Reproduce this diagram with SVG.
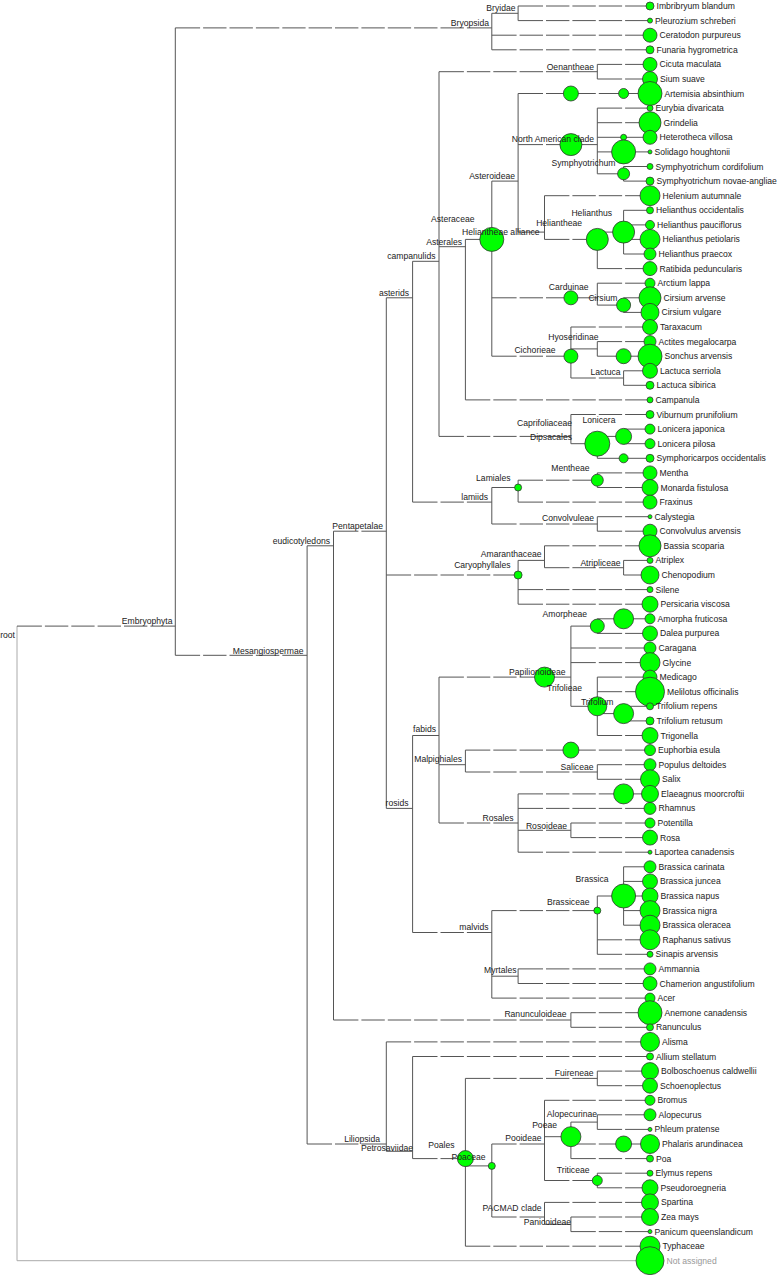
<svg xmlns="http://www.w3.org/2000/svg" width="778" height="1275" viewBox="0 0 778 1275">
<style>
.e{fill:none;stroke:#555;stroke-width:1}
.na{fill:none;stroke:#aaa;stroke-width:1}
.c{fill:#00ff00;stroke:#333;stroke-width:0.8}
text{font-family:"Liberation Sans",Arial,Helvetica,sans-serif;font-size:8.6px;fill:#222}
.i{text-anchor:end}
.g{fill:#999}
</style>
<rect width="778" height="1275" fill="#fff"/>
<g id="connectors">
<path class="e" d="M175.3 27.9V655.3M491.8 13.3V49.8M518.1 6V20.6M307.1 545.8V1144M333.5 531.2V1020M386.3 297.8V808.4M412.6 261.3V502.1M439 71.7V436.4M597.3 64.4V79M465.4 239.4V399.9M491.8 181.1V356.2M518.1 93.5V232.1M597.3 108.1V173.8M623.6 166.5V181.1M544.5 195.7V239.4M597.3 232.1V268.6M623.6 210.3V254M597.3 283.2V305.1M623.6 297.8V312.4M570.9 327V378M597.3 341.6V356.2M623.6 370.8V385.3M570.9 414.5V443.7M597.3 436.4V458.3M623.6 429.1V443.7M491.8 487.5V524M518.1 480.2V502.1M597.3 472.9V487.5M597.3 516.7V531.2M518.1 560.4V604.2M544.5 545.8V567.7M623.6 560.4V575M412.6 735.5V932.5M439 677.1V823M570.9 626.1V706.3M597.3 618.8V633.4M597.3 677.1V735.5M623.6 706.3V720.9M465.4 750.1V772M597.3 764.7V779.3M518.1 793.9V852.2M570.9 823V837.6M491.8 910.6V998.1M597.3 896V954.3M623.6 866.8V925.2M518.1 968.9V983.5M570.9 1012.7V1027.3M386.3 1041.9V1151.3M412.6 1056.5V1158.6M465.4 1078.4V1246.2M597.3 1071.1V1085.7M491.8 1144V1217M544.5 1100.3V1180.5M570.9 1122.1V1158.6M597.3 1114.8V1129.4M597.3 1173.2V1187.8M544.5 1202.4V1224.3M570.9 1217V1231.6"/>
<path class="na" d="M17 626.1V1260.7M17 1260.7H650"/>
<path class="e" d="M17 626.1H41.9m3 0H68.3m3 0H94.6m3 0H121m3 0H147.4m3 0H175.3M175.3 27.9H200.1m3 0H226.5m3 0H252.9m3 0H279.3m3 0H305.6m3 0H332m3 0H358.4m3 0H384.8m3 0H411.1m3 0H437.5m3 0H463.9m3 0H491.8M175.3 655.3H200.1m3 0H226.5m3 0H252.9m3 0H279.3m3 0H307.1M491.8 13.3H518.1M307.1 545.8H333.5M307.1 1144H332m3 0H358.4m3 0H386.3M333.5 531.2H358.4m3 0H386.3M333.5 1020H358.4m3 0H384.8m3 0H411.1m3 0H437.5m3 0H463.9m3 0H490.3m3 0H516.6m3 0H543m3 0H570.9M386.3 297.8H412.6M386.3 575H411.1m3 0H437.5m3 0H463.9m3 0H490.3m3 0H518.1M386.3 808.4H412.6M412.6 261.3H439M412.6 502.1H437.5m3 0H463.9m3 0H491.8M439 71.7H463.9m3 0H490.3m3 0H516.6m3 0H543m3 0H569.4m3 0H597.3M439 246.7H465.4M439 436.4H463.9m3 0H490.3m3 0H516.6m3 0H543m3 0H570.9M465.4 239.4H491.8M491.8 181.1H518.1M491.8 297.8H516.6m3 0H543m3 0H569.4m3 0H597.3M491.8 356.2H516.6m3 0H543m3 0H570.9M518.1 144.6H543m3 0H569.4m3 0H597.3M518.1 232.1H544.5M597.3 173.8H623.6M544.5 239.4H569.4m3 0H597.3M597.3 232.1H623.6M597.3 305.1H623.6M570.9 348.9H597.3M570.9 378H595.8m3 0H623.6M570.9 443.7H597.3M597.3 436.4H623.6M491.8 487.5H518.1M491.8 524H516.6m3 0H543m3 0H569.4m3 0H597.3M518.1 480.2H543m3 0H569.4m3 0H597.3M518.1 560.4H544.5M544.5 567.7H569.4m3 0H595.8m3 0H623.6M412.6 735.5H439M412.6 932.5H437.5m3 0H463.9m3 0H491.8M439 677.1H463.9m3 0H490.3m3 0H516.6m3 0H543m3 0H570.9M439 764.7H465.4M439 823H463.9m3 0H490.3m3 0H518.1M570.9 626.1H597.3M570.9 706.3H597.3M597.3 713.6H623.6M465.4 772H490.3m3 0H516.6m3 0H543m3 0H569.4m3 0H597.3M518.1 830.3H543m3 0H570.9M491.8 910.6H516.6m3 0H543m3 0H569.4m3 0H597.3M491.8 976.2H518.1M597.3 896H623.6M386.3 1151.3H412.6M412.6 1158.6H437.5m3 0H465.4M465.4 1078.4H490.3m3 0H516.6m3 0H543m3 0H569.4m3 0H597.3M465.4 1165.9H491.8M491.8 1144H516.6m3 0H544.5M491.8 1217H516.6m3 0H544.5M544.5 1136.7H570.9M544.5 1180.5H569.4m3 0H597.3M570.9 1122.1H597.3M544.5 1224.3H570.9"/>
<path class="e" d="M518.1 6H543m3 0H569.4m3 0H595.8m3 0H622.1m3 0H650M518.1 20.6H543m3 0H569.4m3 0H595.8m3 0H622.1m3 0H650M491.8 35.2H516.6m3 0H543m3 0H569.4m3 0H595.8m3 0H622.1m3 0H650M491.8 49.8H516.6m3 0H543m3 0H569.4m3 0H595.8m3 0H622.1m3 0H650M597.3 64.4H622.1m3 0H650M597.3 79H622.1m3 0H650M518.1 93.5H543m3 0H569.4m3 0H595.8m3 0H622.1m3 0H650M597.3 108.1H622.1m3 0H650M597.3 122.7H622.1m3 0H650M597.3 137.3H622.1m3 0H650M597.3 151.9H622.1m3 0H650M623.6 166.5H650M623.6 181.1H650M544.5 195.7H569.4m3 0H595.8m3 0H622.1m3 0H650M623.6 210.3H650M623.6 224.9H650M623.6 239.4H650M623.6 254H650M597.3 268.6H622.1m3 0H650M597.3 283.2H622.1m3 0H650M623.6 297.8H650M623.6 312.4H650M570.9 327H595.8m3 0H622.1m3 0H650M597.3 341.6H622.1m3 0H650M597.3 356.2H622.1m3 0H650M623.6 370.8H650M623.6 385.3H650M465.4 399.9H490.3m3 0H516.6m3 0H543m3 0H569.4m3 0H595.8m3 0H622.1m3 0H650M570.9 414.5H595.8m3 0H622.1m3 0H650M623.6 429.1H650M623.6 443.7H650M597.3 458.3H622.1m3 0H650M597.3 472.9H622.1m3 0H650M597.3 487.5H622.1m3 0H650M518.1 502.1H543m3 0H569.4m3 0H595.8m3 0H622.1m3 0H650M597.3 516.7H622.1m3 0H650M597.3 531.2H622.1m3 0H650M544.5 545.8H569.4m3 0H595.8m3 0H622.1m3 0H650M623.6 560.4H650M623.6 575H650M518.1 589.6H543m3 0H569.4m3 0H595.8m3 0H622.1m3 0H650M518.1 604.2H543m3 0H569.4m3 0H595.8m3 0H622.1m3 0H650M597.3 618.8H622.1m3 0H650M597.3 633.4H622.1m3 0H650M570.9 648H595.8m3 0H622.1m3 0H650M570.9 662.6H595.8m3 0H622.1m3 0H650M597.3 677.1H622.1m3 0H650M597.3 691.7H622.1m3 0H650M623.6 706.3H650M623.6 720.9H650M597.3 735.5H622.1m3 0H650M465.4 750.1H490.3m3 0H516.6m3 0H543m3 0H569.4m3 0H595.8m3 0H622.1m3 0H650M597.3 764.7H622.1m3 0H650M597.3 779.3H622.1m3 0H650M518.1 793.9H543m3 0H569.4m3 0H595.8m3 0H622.1m3 0H650M518.1 808.4H543m3 0H569.4m3 0H595.8m3 0H622.1m3 0H650M570.9 823H595.8m3 0H622.1m3 0H650M570.9 837.6H595.8m3 0H622.1m3 0H650M518.1 852.2H543m3 0H569.4m3 0H595.8m3 0H622.1m3 0H650M623.6 866.8H650M623.6 881.4H650M623.6 896H650M623.6 910.6H650M623.6 925.2H650M597.3 939.8H622.1m3 0H650M597.3 954.3H622.1m3 0H650M518.1 968.9H543m3 0H569.4m3 0H595.8m3 0H622.1m3 0H650M518.1 983.5H543m3 0H569.4m3 0H595.8m3 0H622.1m3 0H650M491.8 998.1H516.6m3 0H543m3 0H569.4m3 0H595.8m3 0H622.1m3 0H650M570.9 1012.7H595.8m3 0H622.1m3 0H650M570.9 1027.3H595.8m3 0H622.1m3 0H650M386.3 1041.9H411.1m3 0H437.5m3 0H463.9m3 0H490.3m3 0H516.6m3 0H543m3 0H569.4m3 0H595.8m3 0H622.1m3 0H650M412.6 1056.5H437.5m3 0H463.9m3 0H490.3m3 0H516.6m3 0H543m3 0H569.4m3 0H595.8m3 0H622.1m3 0H650M597.3 1071.1H622.1m3 0H650M597.3 1085.7H622.1m3 0H650M544.5 1100.3H569.4m3 0H595.8m3 0H622.1m3 0H650M597.3 1114.8H622.1m3 0H650M597.3 1129.4H622.1m3 0H650M570.9 1144H595.8m3 0H622.1m3 0H650M570.9 1158.6H595.8m3 0H622.1m3 0H650M597.3 1173.2H622.1m3 0H650M597.3 1187.8H622.1m3 0H650M544.5 1202.4H569.4m3 0H595.8m3 0H622.1m3 0H650M570.9 1217H595.8m3 0H622.1m3 0H650M570.9 1231.6H595.8m3 0H622.1m3 0H650M465.4 1246.2H490.3m3 0H516.6m3 0H543m3 0H569.4m3 0H595.8m3 0H622.1m3 0H650"/>
</g>
<g id="rank-markers">
<circle class="c" cx="570.9" cy="93.5" r="7.5"/>
<circle class="c" cx="623.6" cy="93.5" r="5"/>
<circle class="c" cx="623.6" cy="137.3" r="3"/>
<circle class="c" cx="623.6" cy="151.9" r="12"/>
<circle class="c" cx="623.6" cy="356.2" r="7.5"/>
<circle class="c" cx="623.6" cy="458.3" r="4.5"/>
<circle class="c" cx="623.6" cy="618.8" r="10"/>
<circle class="c" cx="570.9" cy="750.1" r="8"/>
<circle class="c" cx="623.6" cy="793.9" r="10"/>
<circle class="c" cx="623.6" cy="1144" r="8"/>
</g>
<g id="internal-nodes">
<g id="n-root"><text class="i" x="15" y="637.5">root</text></g>
<g id="n-embryophyta"><text class="i" x="172.5" y="624.3">Embryophyta</text></g>
<g id="n-bryopsida"><text class="i" x="489" y="25.8">Bryopsida</text></g>
<g id="n-bryidae"><text class="i" x="515.5" y="10.5">Bryidae</text></g>
<g id="n-mesangiospermae"><text class="i" x="303.5" y="653.5">Mesangiospermae</text></g>
<g id="n-eudicotyledons"><text class="i" x="330" y="543.8">eudicotyledons</text></g>
<g id="n-pentapetalae"><text class="i" x="383" y="529.3">Pentapetalae</text></g>
<g id="n-asterids"><text class="i" x="409" y="295.5">asterids</text></g>
<g id="n-campanulids"><text class="i" x="435.5" y="259.2">campanulids</text></g>
<g id="n-oenantheae"><text class="i" x="594" y="69.6">Oenantheae</text></g>
<g id="n-asterales"><text class="i" x="462" y="244.5">Asterales</text></g>
<g id="n-asteraceae"><circle class="c" cx="491.8" cy="239.4" r="12"/><text class="i" x="474.5" y="222.3">Asteraceae</text></g>
<g id="n-asteroideae"><text class="i" x="515" y="178.8">Asteroideae</text></g>
<g id="n-north-american-clade"><circle class="c" cx="570.9" cy="144.6" r="11"/><text class="i" x="594" y="142">North American clade</text></g>
<g id="n-symphyotrichum"><circle class="c" cx="623.6" cy="173.8" r="6"/><text class="i" x="615.5" y="165.7">Symphyotrichum</text></g>
<g id="n-heliantheae-alliance"><text class="i" x="539.5" y="235.3">Heliantheae alliance</text></g>
<g id="n-heliantheae"><circle class="c" cx="597.3" cy="239.4" r="11"/><text class="i" x="582" y="226.3">Heliantheae</text></g>
<g id="n-helianthus"><circle class="c" cx="623.6" cy="232.1" r="11"/><text class="i" x="612" y="216.3">Helianthus</text></g>
<g id="n-carduinae"><circle class="c" cx="570.9" cy="297.8" r="7"/><text class="i" x="588.5" y="289.7">Carduinae</text></g>
<g id="n-cirsium"><circle class="c" cx="623.6" cy="305.1" r="7"/><text class="i" x="617.5" y="300.7">Cirsium</text></g>
<g id="n-cichorieae"><circle class="c" cx="570.9" cy="356.2" r="7"/><text class="i" x="555.5" y="353">Cichorieae</text></g>
<g id="n-hyoseridinae"><text class="i" x="598.5" y="339.7">Hyoseridinae</text></g>
<g id="n-lactuca"><text class="i" x="620.5" y="375.3">Lactuca</text></g>
<g id="n-dipsacales"><text class="i" x="572" y="439.7">Dipsacales</text></g>
<g id="n-caprifoliaceae"><circle class="c" cx="597.3" cy="443.7" r="12.5"/><text class="i" x="572" y="425.7">Caprifoliaceae</text></g>
<g id="n-lonicera"><circle class="c" cx="623.6" cy="436.4" r="8"/><text class="i" x="615.5" y="423">Lonicera</text></g>
<g id="n-lamiids"><text class="i" x="488" y="499.7">lamiids</text></g>
<g id="n-lamiales"><circle class="c" cx="518.1" cy="487.5" r="3.5"/><text class="i" x="510.5" y="481.3">Lamiales</text></g>
<g id="n-mentheae"><circle class="c" cx="597.3" cy="480.2" r="6"/><text class="i" x="589.5" y="471.3">Mentheae</text></g>
<g id="n-convolvuleae"><text class="i" x="594" y="521.3">Convolvuleae</text></g>
<g id="n-caryophyllales"><circle class="c" cx="518.1" cy="575" r="4"/><text class="i" x="510.5" y="568">Caryophyllales</text></g>
<g id="n-amaranthaceae"><text class="i" x="541.5" y="557.3">Amaranthaceae</text></g>
<g id="n-atripliceae"><text class="i" x="620.5" y="565.7">Atripliceae</text></g>
<g id="n-rosids"><text class="i" x="408.5" y="806.3">rosids</text></g>
<g id="n-fabids"><text class="i" x="436" y="732.3">fabids</text></g>
<g id="n-papilionoideae"><circle class="c" cx="544.5" cy="677.1" r="10"/><text class="i" x="565.5" y="674.7">Papilionoideae</text></g>
<g id="n-amorpheae"><circle class="c" cx="597.3" cy="626.1" r="7"/><text class="i" x="587" y="617">Amorpheae</text></g>
<g id="n-trifolieae"><circle class="c" cx="597.3" cy="706.3" r="9.5"/><text class="i" x="582" y="691.3">Trifolieae</text></g>
<g id="n-trifolium"><circle class="c" cx="623.6" cy="713.6" r="10"/><text class="i" x="613.5" y="704.7">Trifolium</text></g>
<g id="n-malpighiales"><text class="i" x="462" y="762.3">Malpighiales</text></g>
<g id="n-saliceae"><text class="i" x="593.5" y="769.7">Saliceae</text></g>
<g id="n-rosales"><text class="i" x="513.5" y="820.7">Rosales</text></g>
<g id="n-rosoideae"><text class="i" x="567" y="828.7">Rosoideae</text></g>
<g id="n-malvids"><text class="i" x="488.5" y="930.3">malvids</text></g>
<g id="n-brassiceae"><circle class="c" cx="597.3" cy="910.6" r="3.5"/><text class="i" x="589.5" y="904.7">Brassiceae</text></g>
<g id="n-brassica"><circle class="c" cx="623.6" cy="896" r="12"/><text class="i" x="608.5" y="882">Brassica</text></g>
<g id="n-myrtales"><text class="i" x="516.5" y="973">Myrtales</text></g>
<g id="n-ranunculoideae"><text class="i" x="566.5" y="1017.3">Ranunculoideae</text></g>
<g id="n-liliopsida"><text class="i" x="380" y="1141.5">Liliopsida</text></g>
<g id="n-petrosaviidae"><text class="i" x="413" y="1151.3">Petrosaviidae</text></g>
<g id="n-poales"><circle class="c" cx="465.4" cy="1158.6" r="8"/><text class="i" x="454.5" y="1148">Poales</text></g>
<g id="n-fuireneae"><text class="i" x="593.5" y="1075.7">Fuireneae</text></g>
<g id="n-poaceae"><circle class="c" cx="491.8" cy="1165.9" r="3.5"/><text class="i" x="485.5" y="1160">Poaceae</text></g>
<g id="n-pooideae"><text class="i" x="541.5" y="1141.3">Pooideae</text></g>
<g id="n-poeae"><circle class="c" cx="570.9" cy="1136.7" r="10"/><text class="i" x="557" y="1128">Poeae</text></g>
<g id="n-alopecurinae"><text class="i" x="597" y="1117.3">Alopecurinae</text></g>
<g id="n-triticeae"><circle class="c" cx="597.3" cy="1180.5" r="5"/><text class="i" x="589.5" y="1173">Triticeae</text></g>
<g id="n-pacmad"><text class="i" x="541.5" y="1211.3">PACMAD clade</text></g>
<g id="n-panicoideae"><text class="i" x="571" y="1224.7">Panicoideae</text></g>
</g>
<g id="leaves">
<g id="l1"><circle class="c" cx="650" cy="6" r="4"/><text x="656.5" y="9">Imbribryum blandum</text></g>
<g id="l2"><circle class="c" cx="650" cy="20.6" r="2.5"/><text x="655" y="23.6">Pleurozium schreberi</text></g>
<g id="l3"><circle class="c" cx="650" cy="35.2" r="7"/><text x="659.5" y="38.2">Ceratodon purpureus</text></g>
<g id="l4"><circle class="c" cx="650" cy="49.8" r="4"/><text x="656.5" y="52.8">Funaria hygrometrica</text></g>
<g id="l5"><circle class="c" cx="650" cy="64.4" r="7"/><text x="659.5" y="67.4">Cicuta maculata</text></g>
<g id="l6"><circle class="c" cx="650" cy="79" r="7.5"/><text x="660" y="82">Sium suave</text></g>
<g id="l7"><circle class="c" cx="650" cy="93.5" r="12"/><text x="664.5" y="96.5">Artemisia absinthium</text></g>
<g id="l8"><circle class="c" cx="650" cy="108.1" r="3"/><text x="655.5" y="111.1">Eurybia divaricata</text></g>
<g id="l9"><circle class="c" cx="650" cy="122.7" r="11"/><text x="663.5" y="125.7">Grindelia</text></g>
<g id="l10"><circle class="c" cx="650" cy="137.3" r="7"/><text x="659.5" y="140.3">Heterotheca villosa</text></g>
<g id="l11"><circle class="c" cx="650" cy="151.9" r="2"/><text x="654.5" y="154.9">Solidago houghtonii</text></g>
<g id="l12"><circle class="c" cx="650" cy="166.5" r="3"/><text x="655.5" y="169.5">Symphyotrichum cordifolium</text></g>
<g id="l13"><circle class="c" cx="650" cy="181.1" r="4"/><text x="656.5" y="184.1">Symphyotrichum novae-angliae</text></g>
<g id="l14"><circle class="c" cx="650" cy="195.7" r="10"/><text x="662.5" y="198.7">Helenium autumnale</text></g>
<g id="l15"><circle class="c" cx="650" cy="210.3" r="3.5"/><text x="656" y="213.3">Helianthus occidentalis</text></g>
<g id="l16"><circle class="c" cx="650" cy="224.9" r="4.5"/><text x="657" y="227.9">Helianthus pauciflorus</text></g>
<g id="l17"><circle class="c" cx="650" cy="239.4" r="10"/><text x="662.5" y="242.4">Helianthus petiolaris</text></g>
<g id="l18"><circle class="c" cx="650" cy="254" r="6"/><text x="658.5" y="257">Helianthus praecox</text></g>
<g id="l19"><circle class="c" cx="650" cy="268.6" r="7"/><text x="659.5" y="271.6">Ratibida peduncularis</text></g>
<g id="l20"><circle class="c" cx="650" cy="283.2" r="5"/><text x="657.5" y="286.2">Arctium lappa</text></g>
<g id="l21"><circle class="c" cx="650" cy="297.8" r="11"/><text x="663.5" y="300.8">Cirsium arvense</text></g>
<g id="l22"><circle class="c" cx="650" cy="312.4" r="9"/><text x="661.5" y="315.4">Cirsium vulgare</text></g>
<g id="l23"><circle class="c" cx="650" cy="327" r="7.5"/><text x="660" y="330">Taraxacum</text></g>
<g id="l24"><circle class="c" cx="650" cy="341.6" r="6"/><text x="658.5" y="344.6">Actites megalocarpa</text></g>
<g id="l25"><circle class="c" cx="650" cy="356.2" r="12"/><text x="664.5" y="359.2">Sonchus arvensis</text></g>
<g id="l26"><circle class="c" cx="650" cy="370.8" r="7.5"/><text x="660" y="373.8">Lactuca serriola</text></g>
<g id="l27"><circle class="c" cx="650" cy="385.3" r="4"/><text x="656.5" y="388.3">Lactuca sibirica</text></g>
<g id="l28"><circle class="c" cx="650" cy="399.9" r="3"/><text x="655.5" y="402.9">Campanula</text></g>
<g id="l29"><circle class="c" cx="650" cy="414.5" r="4"/><text x="656.5" y="417.5">Viburnum prunifolium</text></g>
<g id="l30"><circle class="c" cx="650" cy="429.1" r="5"/><text x="657.5" y="432.1">Lonicera japonica</text></g>
<g id="l31"><circle class="c" cx="650" cy="443.7" r="5"/><text x="657.5" y="446.7">Lonicera pilosa</text></g>
<g id="l32"><circle class="c" cx="650" cy="458.3" r="4"/><text x="656.5" y="461.3">Symphoricarpos occidentalis</text></g>
<g id="l33"><circle class="c" cx="650" cy="472.9" r="7"/><text x="659.5" y="475.9">Mentha</text></g>
<g id="l34"><circle class="c" cx="650" cy="487.5" r="8"/><text x="660.5" y="490.5">Monarda fistulosa</text></g>
<g id="l35"><circle class="c" cx="650" cy="502.1" r="7"/><text x="659.5" y="505.1">Fraxinus</text></g>
<g id="l36"><circle class="c" cx="650" cy="516.7" r="2"/><text x="654.5" y="519.7">Calystegia</text></g>
<g id="l37"><circle class="c" cx="650" cy="531.2" r="7"/><text x="659.5" y="534.2">Convolvulus arvensis</text></g>
<g id="l38"><circle class="c" cx="650" cy="545.8" r="11"/><text x="663.5" y="548.8">Bassia scoparia</text></g>
<g id="l39"><circle class="c" cx="650" cy="560.4" r="3"/><text x="655.5" y="563.4">Atriplex</text></g>
<g id="l40"><circle class="c" cx="650" cy="575" r="9"/><text x="661.5" y="578">Chenopodium</text></g>
<g id="l41"><circle class="c" cx="650" cy="589.6" r="3"/><text x="655.5" y="592.6">Silene</text></g>
<g id="l42"><circle class="c" cx="650" cy="604.2" r="8"/><text x="660.5" y="607.2">Persicaria viscosa</text></g>
<g id="l43"><circle class="c" cx="650" cy="618.8" r="5"/><text x="657.5" y="621.8">Amorpha fruticosa</text></g>
<g id="l44"><circle class="c" cx="650" cy="633.4" r="7.5"/><text x="660" y="636.4">Dalea purpurea</text></g>
<g id="l45"><circle class="c" cx="650" cy="648" r="6"/><text x="658.5" y="651">Caragana</text></g>
<g id="l46"><circle class="c" cx="650" cy="662.6" r="10"/><text x="662.5" y="665.6">Glycine</text></g>
<g id="l47"><circle class="c" cx="650" cy="677.1" r="7"/><text x="659.5" y="680.1">Medicago</text></g>
<g id="l48"><circle class="c" cx="650" cy="691.7" r="14.5"/><text x="667" y="694.7">Melilotus officinalis</text></g>
<g id="l49"><circle class="c" cx="650" cy="706.3" r="3.5"/><text x="656" y="709.3">Trifolium repens</text></g>
<g id="l50"><circle class="c" cx="650" cy="720.9" r="4"/><text x="656.5" y="723.9">Trifolium retusum</text></g>
<g id="l51"><circle class="c" cx="650" cy="735.5" r="8"/><text x="660.5" y="738.5">Trigonella</text></g>
<g id="l52"><circle class="c" cx="650" cy="750.1" r="5.5"/><text x="658" y="753.1">Euphorbia esula</text></g>
<g id="l53"><circle class="c" cx="650" cy="764.7" r="6"/><text x="658.5" y="767.7">Populus deltoides</text></g>
<g id="l54"><circle class="c" cx="650" cy="779.3" r="9.5"/><text x="662" y="782.3">Salix</text></g>
<g id="l55"><circle class="c" cx="650" cy="793.9" r="8.5"/><text x="661" y="796.9">Elaeagnus moorcroftii</text></g>
<g id="l56"><circle class="c" cx="650" cy="808.4" r="6"/><text x="658.5" y="811.4">Rhamnus</text></g>
<g id="l57"><circle class="c" cx="650" cy="823" r="5"/><text x="657.5" y="826">Potentilla</text></g>
<g id="l58"><circle class="c" cx="650" cy="837.6" r="7.5"/><text x="660" y="840.6">Rosa</text></g>
<g id="l59"><circle class="c" cx="650" cy="852.2" r="2"/><text x="654.5" y="855.2">Laportea canadensis</text></g>
<g id="l60"><circle class="c" cx="650" cy="866.8" r="6"/><text x="658.5" y="869.8">Brassica carinata</text></g>
<g id="l61"><circle class="c" cx="650" cy="881.4" r="7.5"/><text x="660" y="884.4">Brassica juncea</text></g>
<g id="l62"><circle class="c" cx="650" cy="896" r="8"/><text x="660.5" y="899">Brassica napus</text></g>
<g id="l63"><circle class="c" cx="650" cy="910.6" r="10"/><text x="662.5" y="913.6">Brassica nigra</text></g>
<g id="l64"><circle class="c" cx="650" cy="925.2" r="10"/><text x="662.5" y="928.2">Brassica oleracea</text></g>
<g id="l65"><circle class="c" cx="650" cy="939.8" r="10"/><text x="662.5" y="942.8">Raphanus sativus</text></g>
<g id="l66"><circle class="c" cx="650" cy="954.3" r="3"/><text x="655.5" y="957.3">Sinapis arvensis</text></g>
<g id="l67"><circle class="c" cx="650" cy="968.9" r="6"/><text x="658.5" y="971.9">Ammannia</text></g>
<g id="l68"><circle class="c" cx="650" cy="983.5" r="7"/><text x="659.5" y="986.5">Chamerion angustifolium</text></g>
<g id="l69"><circle class="c" cx="650" cy="998.1" r="5"/><text x="657.5" y="1001.1">Acer</text></g>
<g id="l70"><circle class="c" cx="650" cy="1012.7" r="12"/><text x="664.5" y="1015.7">Anemone canadensis</text></g>
<g id="l71"><circle class="c" cx="650" cy="1027.3" r="3.5"/><text x="656" y="1030.3">Ranunculus</text></g>
<g id="l72"><circle class="c" cx="650" cy="1041.9" r="9.5"/><text x="662" y="1044.9">Alisma</text></g>
<g id="l73"><circle class="c" cx="650" cy="1056.5" r="3.5"/><text x="656" y="1059.5">Allium stellatum</text></g>
<g id="l74"><circle class="c" cx="650" cy="1071.1" r="8.5"/><text x="661" y="1074.1">Bolboschoenus caldwellii</text></g>
<g id="l75"><circle class="c" cx="650" cy="1085.7" r="7.5"/><text x="660" y="1088.7">Schoenoplectus</text></g>
<g id="l76"><circle class="c" cx="650" cy="1100.3" r="5"/><text x="657.5" y="1103.3">Bromus</text></g>
<g id="l77"><circle class="c" cx="650" cy="1114.8" r="6"/><text x="658.5" y="1117.8">Alopecurus</text></g>
<g id="l78"><circle class="c" cx="650" cy="1129.4" r="2"/><text x="654.5" y="1132.4">Phleum pratense</text></g>
<g id="l79"><circle class="c" cx="650" cy="1144" r="9.5"/><text x="662" y="1147">Phalaris arundinacea</text></g>
<g id="l80"><circle class="c" cx="650" cy="1158.6" r="3.5"/><text x="656" y="1161.6">Poa</text></g>
<g id="l81"><circle class="c" cx="650" cy="1173.2" r="3"/><text x="655.5" y="1176.2">Elymus repens</text></g>
<g id="l82"><circle class="c" cx="650" cy="1187.8" r="8"/><text x="660.5" y="1190.8">Pseudoroegneria</text></g>
<g id="l83"><circle class="c" cx="650" cy="1202.4" r="8.5"/><text x="661" y="1205.4">Spartina</text></g>
<g id="l84"><circle class="c" cx="650" cy="1217" r="8.5"/><text x="661" y="1220">Zea mays</text></g>
<g id="l85"><circle class="c" cx="650" cy="1231.6" r="2"/><text x="654.5" y="1234.6">Panicum queenslandicum</text></g>
<g id="l86"><circle class="c" cx="650" cy="1246.2" r="10"/><text x="662.5" y="1249.2">Typhaceae</text></g>
<g id="l87"><circle class="c" cx="650" cy="1260.7" r="14"/><text class="g" x="666.5" y="1263.7">Not assigned</text></g>
</g>
</svg>
